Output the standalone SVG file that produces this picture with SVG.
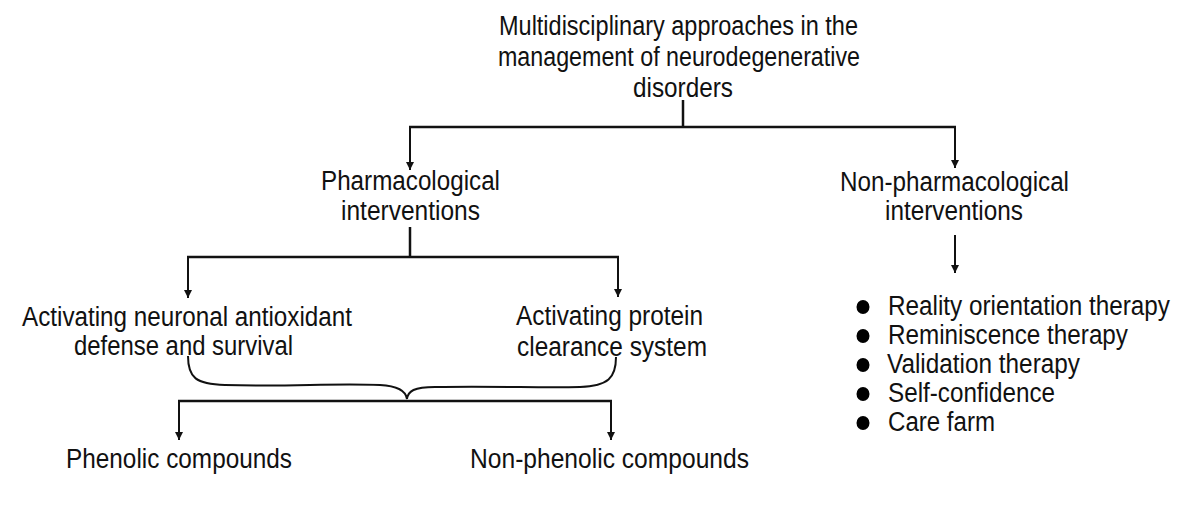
<svg xmlns="http://www.w3.org/2000/svg" width="1188" height="513" viewBox="0 0 1188 513">
<style>
  text { font-family: "Liberation Sans", Arial, sans-serif; font-size: 27px; fill: #111; }
  .ln { stroke: #111; stroke-width: 2.5; fill: none; }
  .ar { stroke: #111; stroke-width: 2; fill: none; marker-end: url(#ah); }
  .br { stroke: #111; stroke-width: 2; fill: none; }
</style>
<defs>
  <marker id="ah" viewBox="0 0 10 10" refX="10" refY="5" markerWidth="10" markerHeight="8" orient="auto" markerUnits="userSpaceOnUse">
    <path d="M0,0 L10,5 L0,10 z" fill="#111"/>
  </marker>
</defs>
<rect width="1188" height="513" fill="#fff"/>

<g id="connectors">
  <line class="ln" x1="683" y1="100" x2="683" y2="127"/>
  <line class="ln" x1="409" y1="127" x2="956" y2="127"/>
  <line class="ar" x1="410" y1="127" x2="410" y2="170"/>
  <line class="ar" x1="955" y1="127" x2="955" y2="168"/>
  <line class="ln" x1="410" y1="227" x2="410" y2="257"/>
  <line class="ln" x1="187" y1="257" x2="619" y2="257"/>
  <line class="ar" x1="188" y1="257" x2="188" y2="298"/>
  <line class="ar" x1="618" y1="257" x2="618" y2="297"/>
  <line class="ar" x1="955" y1="235" x2="955" y2="273"/>
  <path class="br" d="M188,356 C188,378 196,384 225,385 C290,387 330,383 380,385 C400,386 406,392 407,399 C408,391 414,387 435,387 C500,386 540,388 580,387 C608,386 616,378 616,357"/>
  <line class="ln" x1="178" y1="401" x2="612" y2="401"/>
  <line class="ar" x1="179" y1="401" x2="179" y2="440"/>
  <line class="ar" x1="611" y1="401" x2="611" y2="440"/>
</g>

<g id="root">
  <text x="499" y="35" textLength="359" lengthAdjust="spacingAndGlyphs">Multidisciplinary approaches in the</text>
  <text x="498" y="66" textLength="362" lengthAdjust="spacingAndGlyphs">management of neurodegenerative</text>
  <text x="633" y="97" textLength="100" lengthAdjust="spacingAndGlyphs">disorders</text>
</g>
<g id="pharmacological">
  <text x="321" y="190" textLength="179" lengthAdjust="spacingAndGlyphs">Pharmacological</text>
  <text x="341" y="220" textLength="139" lengthAdjust="spacingAndGlyphs">interventions</text>
</g>
<g id="non-pharmacological">
  <text x="840" y="191" textLength="229" lengthAdjust="spacingAndGlyphs">Non-pharmacological</text>
  <text x="885" y="220" textLength="138" lengthAdjust="spacingAndGlyphs">interventions</text>
</g>
<g id="antioxidant">
  <text x="22" y="326" textLength="330" lengthAdjust="spacingAndGlyphs">Activating neuronal antioxidant</text>
  <text x="74" y="355" textLength="219" lengthAdjust="spacingAndGlyphs">defense and survival</text>
</g>
<g id="protein-clearance">
  <text x="516" y="325" textLength="187" lengthAdjust="spacingAndGlyphs">Activating protein</text>
  <text x="517" y="356" textLength="190" lengthAdjust="spacingAndGlyphs">clearance system</text>
</g>
<g id="phenolic">
  <text x="66" y="468" textLength="226" lengthAdjust="spacingAndGlyphs">Phenolic compounds</text>
</g>
<g id="non-phenolic">
  <text x="470" y="468" textLength="279" lengthAdjust="spacingAndGlyphs">Non-phenolic compounds</text>
</g>
<g id="therapies">
  <ellipse cx="863" cy="307" rx="6.5" ry="7"/>
  <ellipse cx="863" cy="336" rx="6.5" ry="7"/>
  <ellipse cx="863" cy="365" rx="6.5" ry="7"/>
  <ellipse cx="863" cy="394" rx="6.5" ry="7"/>
  <ellipse cx="863" cy="423" rx="6.5" ry="7"/>
  <text x="888" y="315" textLength="282" lengthAdjust="spacingAndGlyphs">Reality orientation therapy</text>
  <text x="888" y="344" textLength="240" lengthAdjust="spacingAndGlyphs">Reminiscence therapy</text>
  <text x="887" y="373" textLength="193" lengthAdjust="spacingAndGlyphs">Validation therapy</text>
  <text x="888" y="402" textLength="167" lengthAdjust="spacingAndGlyphs">Self-confidence</text>
  <text x="888" y="431" textLength="107" lengthAdjust="spacingAndGlyphs">Care farm</text>
</g>
</svg>
